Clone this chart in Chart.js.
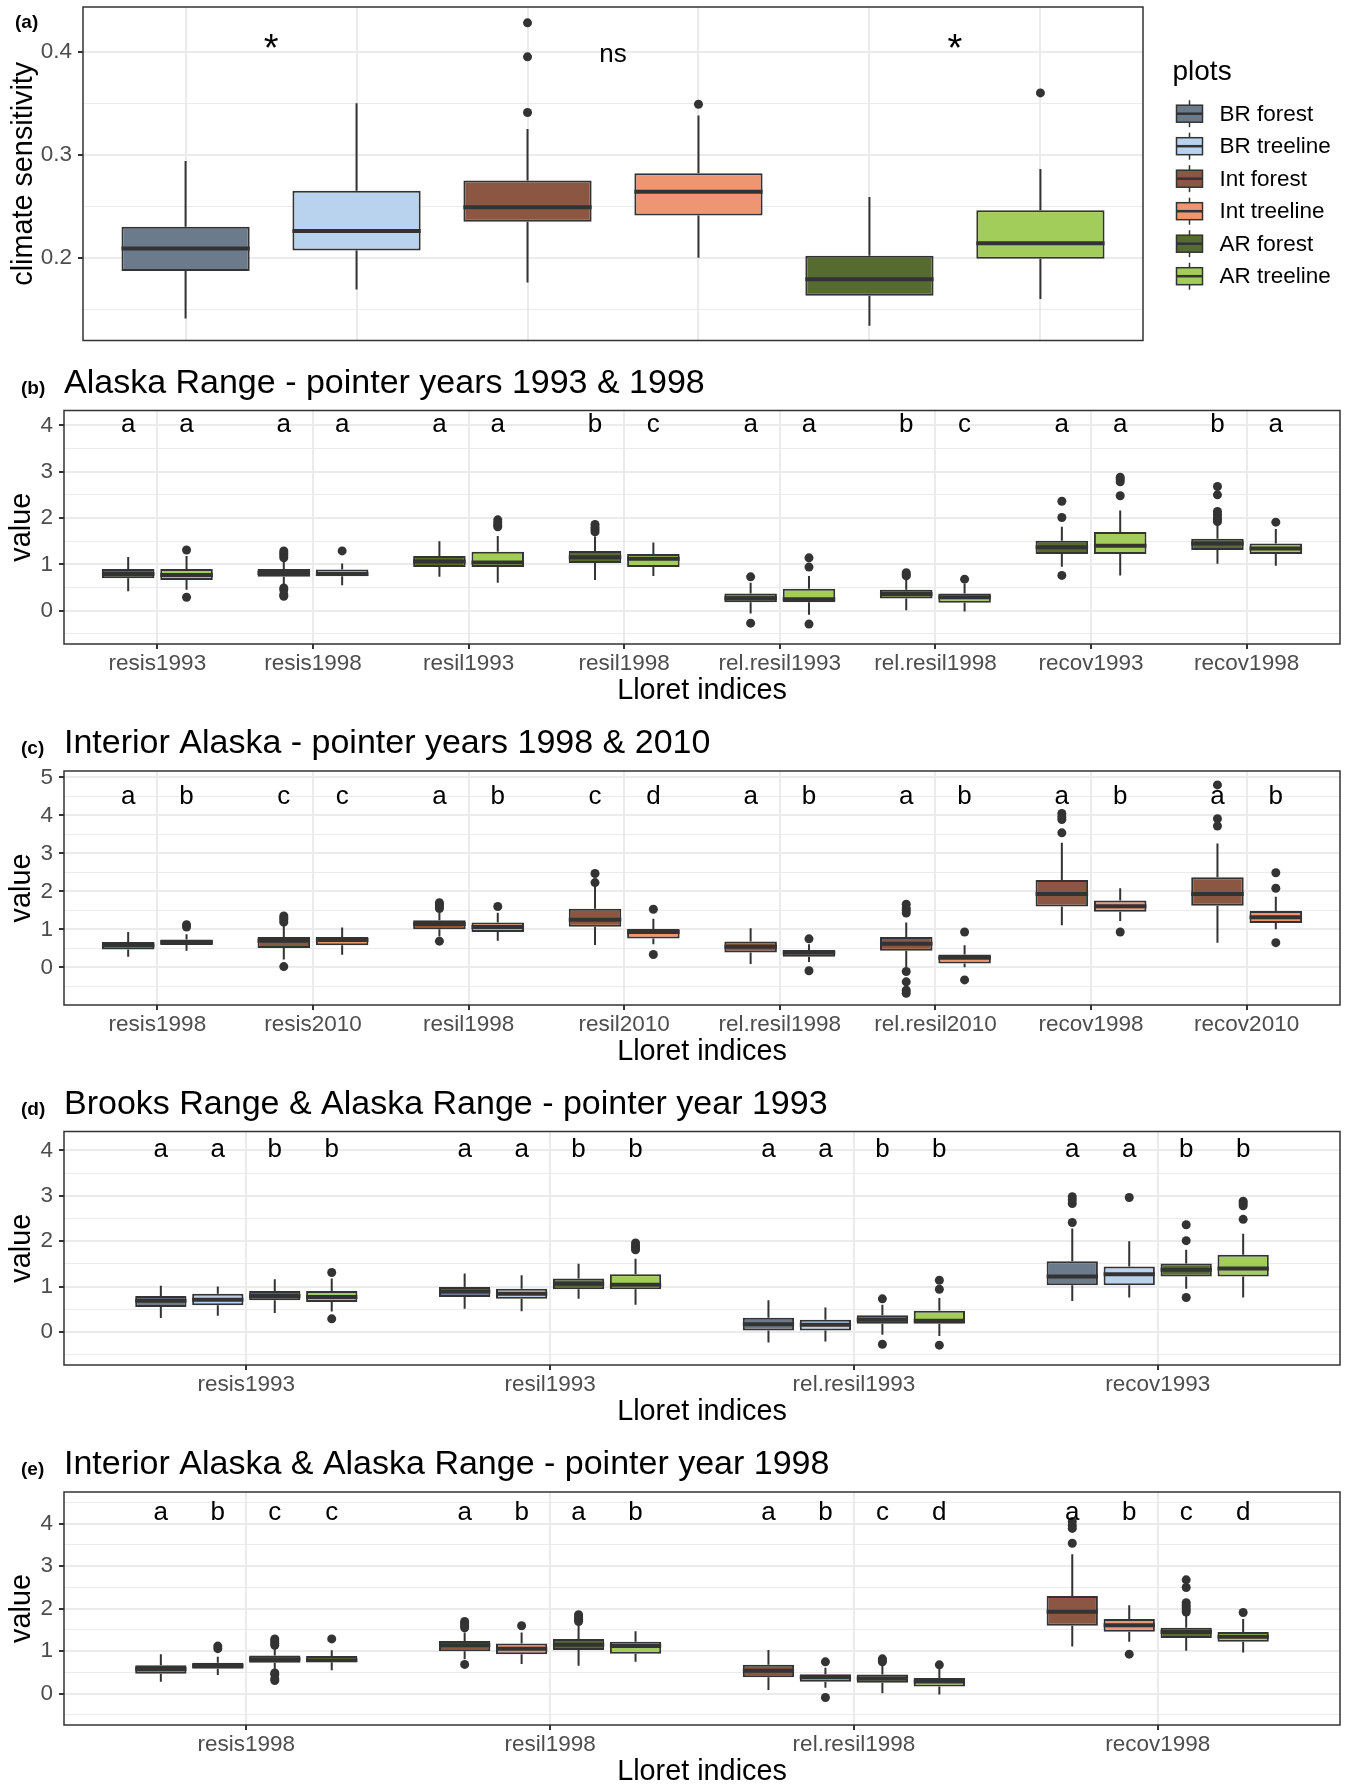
<!DOCTYPE html>
<html>
<head>
<meta charset="utf-8">
<title>Climate sensitivity and Lloret indices</title>
<script src="https://cdn.jsdelivr.net/npm/chart.js@4.4.1/dist/chart.umd.min.js"></script>
<style>
  html, body { margin: 0; padding: 0; background: #ffffff; }
  body { position: relative; width: 1346px; height: 1786px; overflow: hidden; }
  canvas { position: absolute; left: 0; }
</style>
</head>
<body>
<canvas id="ca"></canvas>
<canvas id="cb"></canvas>
<canvas id="cc"></canvas>
<canvas id="cd"></canvas>
<canvas id="ce"></canvas>
<script>
// box stats are [lower whisker, Q1, median, Q3, upper whisker]
const groups = ['BR forest', 'BR treeline', 'Int forest', 'Int treeline', 'AR forest', 'AR treeline'];

// (a) climate sensitivity
const sensStats = [
  [0.141, 0.187, 0.209, 0.230, 0.294],
  [0.169, 0.207, 0.226, 0.265, 0.350],
  [0.176, 0.235, 0.249, 0.275, 0.325],
  [0.200, 0.241, 0.264, 0.282, 0.338],
  [0.134, 0.163, 0.179, 0.202, 0.259],
  [0.160, 0.199, 0.214, 0.246, 0.286]
];
const sensOutliers = [[], [], [0.428, 0.395, 0.341], [0.349], [], [0.360]];
const sensMarks = ['*', 'ns', '*'];
const sensMarkX = [1.5, 3.5, 5.5];
const sensMarkY = [0.401, 0.3965, 0.401];
const sensTicks = [0.15, 0.2, 0.25, 0.3, 0.35, 0.4];
const sensMajor = [0.2, 0.3, 0.4];

// (b) Alaska Range, pointer years 1993 & 1998
const bCats = ['resis1993', 'resis1998', 'resil1993', 'resil1998', 'rel.resil1993', 'rel.resil1998', 'recov1993', 'recov1998'];
const bARforest = [
  [0.42, 0.70, 0.79, 0.90, 1.16],
  [0.55, 0.73, 0.81, 0.90, 1.06],
  [0.73, 0.94, 1.06, 1.18, 1.50],
  [0.66, 1.03, 1.15, 1.29, 1.60],
  [-0.06, 0.18, 0.27, 0.37, 0.60],
  [0.01, 0.26, 0.36, 0.45, 0.68],
  [0.95, 1.22, 1.37, 1.51, 1.81],
  [1.01, 1.31, 1.45, 1.55, 1.84]
];
const bARforestOut = [[], [1.29, 1.24, 1.19, 1.14, 0.49, 0.45, 0.35, 0.31], [], [1.86, 1.80, 1.75, 1.70],
  [0.73, -0.27], [0.82, 0.78, 0.75], [2.36, 2.01, 0.76], [2.68, 2.50, 2.14, 2.08, 2.02, 1.97, 1.92]];
const bARtreeline = [
  [0.45, 0.66, 0.77, 0.90, 1.18],
  [0.55, 0.74, 0.79, 0.89, 1.02],
  [0.60, 0.94, 1.04, 1.27, 1.61],
  [0.75, 0.94, 1.12, 1.22, 1.47],
  [-0.09, 0.18, 0.245, 0.47, 0.75],
  [-0.02, 0.17, 0.29, 0.37, 0.58],
  [0.76, 1.22, 1.40, 1.70, 2.16],
  [0.97, 1.22, 1.34, 1.45, 1.76]
];
const bARtreelineOut = [[1.31, 0.29], [1.29], [1.96, 1.90, 1.85, 1.81], [], [1.14, 0.94, -0.29], [0.68],
  [2.88, 2.83, 2.78, 2.48], [1.91]];
const bLetters = ['a', 'a', 'a', 'a', 'a', 'a', 'b', 'c', 'a', 'a', 'b', 'c', 'a', 'a', 'b', 'a'];

// (c) Interior Alaska, pointer years 1998 & 2010
const cCats = ['resis1998', 'resis2010', 'resil1998', 'resil2010', 'rel.resil1998', 'rel.resil2010', 'recov1998', 'recov2010'];
const cIntForest = [
  [0.28, 0.47, 0.58, 0.67, 0.93],
  [0.21, 0.51, 0.70, 0.80, 1.14],
  [0.81, 1.00, 1.14, 1.24, 1.44],
  [0.59, 1.07, 1.25, 1.54, 2.14],
  [0.09, 0.39, 0.54, 0.68, 1.03],
  [0.00, 0.44, 0.62, 0.80, 1.18],
  [1.11, 1.60, 1.93, 2.30, 3.28],
  [0.65, 1.62, 1.93, 2.37, 3.26]
];
const cIntForestOut = [[], [1.35, 1.30, 1.25, 1.19, 0.02], [1.70, 1.65, 1.60, 1.55, 0.69], [2.47, 2.23], [],
  [1.66, 1.56, 1.50, 1.43, -0.11, -0.38, -0.60, -0.68], [4.05, 3.96, 3.89, 3.54], [4.80, 3.91, 3.72]];
const cIntTreeline = [
  [0.44, 0.59, 0.66, 0.73, 0.87],
  [0.33, 0.58, 0.72, 0.80, 1.05],
  [0.70, 0.93, 1.06, 1.18, 1.44],
  [0.61, 0.76, 0.93, 1.01, 1.28],
  [0.14, 0.28, 0.385, 0.46, 0.61],
  [0.00, 0.10, 0.25, 0.34, 0.58],
  [1.22, 1.46, 1.61, 1.76, 2.08],
  [1.00, 1.17, 1.32, 1.48, 1.86]
];
const cIntTreelineOut = [[1.12, 1.06], [], [1.60], [1.53, 0.34], [0.75, -0.09], [0.93, -0.33], [0.93], [2.49, 2.08, 0.65]];
const cLetters = ['a', 'b', 'c', 'c', 'a', 'b', 'c', 'd', 'a', 'b', 'a', 'b', 'a', 'b', 'a', 'b'];

// (d) Brooks Range & Alaska Range, pointer year 1993
const dCats = ['resis1993', 'resil1993', 'rel.resil1993', 'recov1993'];
const dBRforest = [
  [0.31, 0.55, 0.69, 0.79, 1.02],
  [0.51, 0.77, 0.89, 0.99, 1.29],
  [-0.23, 0.03, 0.17, 0.315, 0.70],
  [0.68, 1.03, 1.22, 1.56, 2.28]
];
const dBRforestOut = [[], [], [], [2.98, 2.91, 2.83, 2.41]];
const dBRtreeline = [
  [0.36, 0.59, 0.71, 0.84, 1.00],
  [0.455, 0.73, 0.84, 0.95, 1.25],
  [-0.21, 0.03, 0.16, 0.27, 0.54],
  [0.76, 1.03, 1.27, 1.44, 2.00]
];
const dBRtreelineOut = [[], [], [], [2.96]];
const dLetters = ['a', 'a', 'b', 'b', 'a', 'a', 'b', 'b', 'a', 'a', 'b', 'b', 'a', 'a', 'b', 'b'];

// (e) Interior Alaska & Alaska Range, pointer year 1998
const eCats = ['resis1998', 'resil1998', 'rel.resil1998', 'recov1998'];
const eLetters = ['a', 'b', 'c', 'c', 'a', 'b', 'a', 'b', 'a', 'b', 'c', 'd', 'a', 'b', 'c', 'd'];

const valueTicks4 = [-0.5, 0, 0.5, 1, 1.5, 2, 2.5, 3, 3.5, 4];
const valueTicks5 = [-0.5, 0, 0.5, 1, 1.5, 2, 2.5, 3, 3.5, 4, 4.5, 5];
const valueTicks45 = [-0.5, 0, 0.5, 1, 1.5, 2, 2.5, 3, 3.5, 4, 4.5];
const valueMajor = [0, 1, 2, 3, 4, 5];

const pick = (arr, idx) => idx.map(i => arr[i]);

const FONT = '"Liberation Sans", Arial, Helvetica, sans-serif';
const INK = '#333333';
const COLORS = {
  'BR forest': '#6C7B8B', 'BR treeline': '#B9D3EE',
  'Int forest': '#8B5742', 'Int treeline': '#EE9572',
  'AR forest': '#556B2F', 'AR treeline': '#A2CD5A'
};
Chart.defaults.font.family = FONT;

function extras(p, n) {
  return {
    id: 'boxExtras',
    beforeDatasetsDraw(chart) {
      const ctx = chart.ctx, ys = chart.scales.y;
      ctx.save();
      ctx.strokeStyle = INK;
      ctx.lineWidth = 2;
      chart.data.datasets.forEach((ds, i) => {
        if (!ds.stats) return;
        chart.getDatasetMeta(i).data.forEach((el, j) => {
          const s = ds.stats[j];
          ctx.beginPath();
          ctx.moveTo(el.x, ys.getPixelForValue(s[0]));
          ctx.lineTo(el.x, ys.getPixelForValue(s[1]));
          ctx.moveTo(el.x, ys.getPixelForValue(s[3]));
          ctx.lineTo(el.x, ys.getPixelForValue(s[4]));
          ctx.stroke();
        });
      });
      ctx.restore();
    },
    afterDatasetsDraw(chart) {
      const ctx = chart.ctx, ys = chart.scales.y;
      ctx.save();
      ctx.strokeStyle = INK;
      ctx.lineWidth = 4;
      let k = 0;
      chart.data.datasets.forEach((ds, i) => {
        if (!ds.stats) return;
        chart.getDatasetMeta(i).data.forEach((el, j) => {
          const y = ys.getPixelForValue(ds.stats[j][2]);
          ctx.beginPath();
          ctx.moveTo(el.x - el.width / 2, y);
          ctx.lineTo(el.x + el.width / 2, y);
          ctx.stroke();
          if (p.letters) {
            ctx.fillStyle = '#000';
            ctx.font = '26px ' + FONT;
            ctx.textAlign = 'center';
            ctx.textBaseline = 'middle';
            ctx.fillText(p.letters[j * n + k], el.x, ys.getPixelForValue(p.letterY));
          }
        });
        k++;
      });
      ctx.restore();
    },
    afterDraw(chart) {
      const ctx = chart.ctx, a = chart.chartArea;
      ctx.save();
      ctx.strokeStyle = INK;
      ctx.lineWidth = 1.5;
      ctx.strokeRect(a.left, a.top, a.right - a.left, a.bottom - a.top);
      ctx.fillStyle = '#000';
      ctx.textAlign = 'left';
      ctx.textBaseline = 'alphabetic';
      ctx.font = 'bold 19px ' + FONT;
      ctx.fillText(p.tag, p.tagX, p.tagY);
      if (p.title) {
        ctx.font = '34px ' + FONT;
        ctx.fillText(p.title, 64, p.plotTop - p.top - 18);
      }
      if (p.marks) {
        const xs = chart.scales.x, ys = chart.scales.y;
        ctx.textAlign = 'center';
        ctx.textBaseline = 'middle';
        p.marks.forEach((m, i) => {
          ctx.font = (m === '*' ? '38px ' : '26px ') + FONT;
          ctx.fillText(m, xs.getPixelForValue(p.markX[i]), ys.getPixelForValue(p.markY[i]));
        });
      }
      if (p.legend) {
        const lx = 1189.5, ly = 113.7, dy = 32.5;
        ctx.textAlign = 'left';
        ctx.textBaseline = 'alphabetic';
        ctx.font = '28px ' + FONT;
        ctx.fillText('plots', 1172.5, 80);
        ctx.font = '22.5px ' + FONT;
        ctx.textBaseline = 'middle';
        groups.forEach((g, i) => {
          const cy = ly + i * dy;
          ctx.strokeStyle = INK;
          ctx.lineWidth = 1.5;
          ctx.beginPath();
          ctx.moveTo(lx, cy - 13.5);
          ctx.lineTo(lx, cy + 13.5);
          ctx.stroke();
          ctx.fillStyle = COLORS[g];
          ctx.fillRect(lx - 13, cy - 8.5, 26, 17);
          ctx.strokeRect(lx - 13, cy - 8.5, 26, 17);
          ctx.lineWidth = 2.5;
          ctx.beginPath();
          ctx.moveTo(lx - 13, cy);
          ctx.lineTo(lx + 13, cy);
          ctx.stroke();
          ctx.fillStyle = '#000';
          ctx.fillText(g, 1219.5, cy + 1);
        });
      }
      ctx.restore();
    }
  };
}

function makePanel(p) {
  const cv = document.getElementById(p.canvas);
  cv.width = 1346;
  cv.height = p.height;
  cv.style.top = p.top + 'px';
  const catPct = 0.75;
  const series = p.single
    ? [{ name: 'climate sensitivity', stats: p.stats, out: p.out, color: p.cats.map(c => COLORS[c]) }]
    : p.series.map(s => ({ name: s.name, stats: s.stats, out: s.out, color: COLORS[s.name] }));
  const n = series.length;
  const datasets = [];
  series.forEach(s => {
    datasets.push({
      type: 'bar', label: s.name, stats: s.stats,
      data: s.stats.map((v, i) => ({ x: i + 1, y: [v[1], v[3]] })),
      backgroundColor: s.color, borderColor: INK, borderWidth: 2, borderSkipped: false,
      categoryPercentage: catPct, barPercentage: p.single ? 1 : 0.9
    });
  });
  series.forEach((s, k) => {
    const dx = ((k + 0.5) / n - 0.5) * catPct;
    const pts = [];
    s.out.forEach((list, i) => list.forEach(v => pts.push({ x: i + 1 + dx, y: v })));
    datasets.push({
      type: 'scatter', label: s.name + ' outliers', data: pts,
      pointRadius: 4.5, pointHoverRadius: 4.5, pointBackgroundColor: INK, pointBorderWidth: 0
    });
  });
  const isMajor = v => p.yMajor.some(m => Math.abs(m - v) < 1e-9);
  const xHeight = p.top + p.height - p.plotBottom;

  new Chart(cv, {
    type: 'bar',
    data: { datasets },
    options: {
      responsive: false, animation: false, events: [], devicePixelRatio: 1,
      layout: { autoPadding: false, padding: { left: 0, right: 1346 - p.right, top: p.plotTop - p.top, bottom: 0 } },
      plugins: { legend: { display: false }, tooltip: { enabled: false } },
      scales: {
        x: {
          type: 'linear', min: 0.4, max: p.cats.length + 0.6, offset: false,
          afterBuildTicks: s => { s.ticks = p.cats.map((c, i) => ({ value: i + 1 })); },
          afterFit: s => { s.height = xHeight; s.paddingLeft = 0; s.paddingRight = 0; },
          ticks: {
            display: !p.single, autoSkip: false, maxRotation: 0, minRotation: 0, padding: 4,
            color: '#4D4D4D', font: { size: 22.5, lineHeight: 1 },
            callback: v => p.cats[Math.round(v) - 1]
          },
          grid: { offset: false, color: '#EBEBEB', lineWidth: 2, drawTicks: !p.single, tickLength: 5, tickColor: INK, tickWidth: 2 },
          border: { display: false },
          title: { display: !p.single, text: 'Lloret indices', color: '#000', font: { size: 28.8, lineHeight: 1 }, padding: { top: 0, bottom: 0 } }
        },
        y: {
          type: 'linear', min: p.yMin, max: p.yMax,
          afterBuildTicks: s => { s.ticks = p.yTicks.map(v => ({ value: v })); },
          afterFit: s => { s.width = p.left; s.paddingTop = 0; s.paddingBottom = 0; },
          ticks: {
            autoSkip: false, padding: 6, color: '#4D4D4D', font: { size: 22.5, lineHeight: 1 },
            callback: v => isMajor(v) ? (p.single ? v.toFixed(1) : String(v)) : ''
          },
          grid: {
            color: '#EBEBEB',
            lineWidth: c => (c.tick && isMajor(c.tick.value)) ? 2 : 1,
            tickLength: 5,
            tickWidth: 2,
            tickColor: c => (c.tick && isMajor(c.tick.value)) ? INK : 'rgba(0,0,0,0)'
          },
          border: { display: false },
          title: { display: true, text: p.yTitle || 'value', color: '#000', font: { size: 28.8, lineHeight: 1 }, padding: { top: p.yTitlePad || 8, bottom: 0 } }
        }
      }
    },
    plugins: [extras(p, n)]
  });
}

makePanel({
  canvas: 'ca', top: 0, height: 345, plotTop: 7, plotBottom: 340.5, left: 83, right: 1143,
  single: true, cats: groups, stats: sensStats, out: sensOutliers,
  yMin: 0.1196, yMax: 0.4434, yTicks: sensTicks, yMajor: sensMajor,
  yTitle: 'climate sensitivity', yTitlePad: 10,
  marks: sensMarks, markX: sensMarkX, markY: sensMarkY,
  tag: '(a)', tagX: 15, tagY: 28, legend: true
});

makePanel({
  canvas: 'cb', top: 345, height: 360, plotTop: 410.5, plotBottom: 644, left: 64, right: 1340,
  cats: bCats,
  series: [
    { name: 'AR forest', stats: bARforest, out: bARforestOut },
    { name: 'AR treeline', stats: bARtreeline, out: bARtreelineOut }
  ],
  letters: bLetters, letterY: 4.0,
  yMin: -0.72, yMax: 4.32, yTicks: valueTicks4, yMajor: valueMajor,
  tag: '(b)', tagX: 21, tagY: 410.5 - 345 - 17, title: 'Alaska Range - pointer years 1993 & 1998'
});

makePanel({
  canvas: 'cc', top: 705, height: 361, plotTop: 771, plotBottom: 1005, left: 64, right: 1340,
  cats: cCats,
  series: [
    { name: 'Int forest', stats: cIntForest, out: cIntForestOut },
    { name: 'Int treeline', stats: cIntTreeline, out: cIntTreelineOut }
  ],
  letters: cLetters, letterY: 4.48,
  yMin: -0.99, yMax: 5.166, yTicks: valueTicks5, yMajor: valueMajor,
  tag: '(c)', tagX: 21, tagY: 771 - 705 - 17, title: 'Interior Alaska - pointer years 1998 & 2010'
});

const yr93 = [0, 2, 4, 6];
makePanel({
  canvas: 'cd', top: 1066, height: 360, plotTop: 1131.5, plotBottom: 1365, left: 64, right: 1340,
  cats: dCats,
  series: [
    { name: 'BR forest', stats: dBRforest, out: dBRforestOut },
    { name: 'BR treeline', stats: dBRtreeline, out: dBRtreelineOut },
    { name: 'AR forest', stats: pick(bARforest, yr93), out: pick(bARforestOut, yr93) },
    { name: 'AR treeline', stats: pick(bARtreeline, yr93), out: pick(bARtreelineOut, yr93) }
  ],
  letters: dLetters, letterY: 4.0,
  yMin: -0.727, yMax: 4.414, yTicks: valueTicks4, yMajor: valueMajor,
  tag: '(d)', tagX: 21, tagY: 1131.5 - 1066 - 17, title: 'Brooks Range & Alaska Range - pointer year 1993'
});

const int98 = [0, 2, 4, 6];
const ar98 = [1, 3, 5, 7];
makePanel({
  canvas: 'ce', top: 1426, height: 360, plotTop: 1492, plotBottom: 1725, left: 64, right: 1340,
  cats: eCats,
  series: [
    { name: 'Int forest', stats: pick(cIntForest, int98), out: pick(cIntForestOut, int98) },
    { name: 'Int treeline', stats: pick(cIntTreeline, int98), out: pick(cIntTreelineOut, int98) },
    { name: 'AR forest', stats: pick(bARforest, ar98), out: pick(bARforestOut, ar98) },
    { name: 'AR treeline', stats: pick(bARtreeline, ar98), out: pick(bARtreelineOut, ar98) }
  ],
  letters: eLetters, letterY: 4.25,
  yMin: -0.736, yMax: 4.746, yTicks: valueTicks45, yMajor: valueMajor,
  tag: '(e)', tagX: 21, tagY: 1492 - 1426 - 17, title: 'Interior Alaska & Alaska Range - pointer year 1998'
});
</script>
</body>
</html>
